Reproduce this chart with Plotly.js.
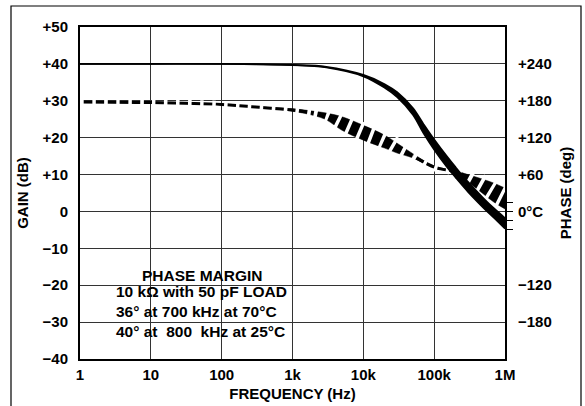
<!DOCTYPE html>
<html><head><meta charset="utf-8">
<script src="https://cdn.plot.ly/plotly-3.0.1.min.js"></script>
<style>html,body{margin:0;padding:0;background:#fff}#chart{width:585px;height:406px}</style>
</head><body><div id="chart"></div>
<script>
// ---- data ----
const freqGain  = [1, 10, 100, 300, 1000, 3000, 10000, 20000, 30000, 50000, 70000, 100000, 150000, 200000, 300000, 500000, 700000, 1000000];
const gainUpper = [40.0, 40.0, 40.0, 39.9, 39.7, 39.2, 37.0, 34.5, 32.3, 28.0, 23.8, 19.5, 15.0, 12.0, 8.0, 3.5, 0.8, -1.8];
const gainLower = [40.0, 40.0, 40.0, 39.9, 39.7, 39.0, 36.6, 33.5, 31.0, 26.2, 21.3, 16.7, 12.1, 9.2, 5.3, 0.9, -1.8, -4.7];

const freqPhase  = [1, 10, 100, 300, 1000, 2000, 3000, 5000, 10000, 20000, 30000, 50000, 100000, 200000, 300000, 500000, 700000, 1000000];
const phaseUpper = [178, 177, 174, 170, 167, 163, 160, 154, 140, 124, 111, 94, 74, 66, 60, 52, 46, 38];
const phaseLower = [178, 177, 174, 170, 163, 156, 149, 132, 116, 103, 95, 87, 71, 62, 48, 28, 15, 4];
const phaseMid   = [178, 177, 174, 170, 165, 160, 155, 143, 128, 114, 103, 90, 72, 64, 54, 40, 30, 21];

const freqTickVals  = [1, 10, 100, 1000, 10000, 100000, 1000000];
const freqTickText  = ['1', '10', '100', '1k', '10k', '100k', '1M'];
const gainTickVals  = [-40, -30, -20, -10, 0, 10, 20, 30, 40, 50];
const gainTickText  = ['\u221240', '\u221230', '\u221220', '\u221210', '0', '+10', '+20', '+30', '+40', '+50'];
const phaseTickVals = [-240, -180, -120, -60, 0, 60, 120, 180, 240, 300];
const phaseTickText = ['', '\u2212180', '\u2212120', '', '0\u00b0C', '+60', '+120', '+180', '+240', ''];
const phaseMinorTicks = [15, 0, -15, -30];

// ---- styling ----
const FONT = 'Liberation Sans, Arial, Helvetica, sans-serif';
const tickFont = {family: FONT, size: 15, color: '#000', weight: 'bold'};
const titleFont = {family: FONT, size: 15, color: '#000', weight: 'bold'};
const noteFont = {family: FONT, size: 15.5, color: '#000', weight: 'bold'};

// white gap overlays for the dashed phase band (segments with different widths)
const segs = [[0, 5, 7], [5, 11, 20], [11, 14, 8], [14, 17, 22]];
const gapTraces = segs.map(s => ({
  x: freqPhase.slice(s[0], s[1] + 1), y: phaseMid.slice(s[0], s[1] + 1),
  yaxis: 'y', mode: 'lines', hoverinfo: 'skip',
  line: {color: '#fff', width: s[2], dash: '3.5px,8.5px', shape: 'spline', smoothing: 1}
}));

const traces = [
  {x: freqPhase, y: phaseUpper, yaxis: 'y', mode: 'lines',
   line: {color: '#000', width: 0.5, shape: 'spline', smoothing: 1}},
  {x: freqPhase, y: phaseLower, yaxis: 'y', mode: 'lines', fill: 'tonexty', fillcolor: '#000',
   line: {color: '#000', width: 0.5, shape: 'spline', smoothing: 1}},
  {x: freqPhase, y: phaseMid, yaxis: 'y', mode: 'lines',
   line: {color: '#000', width: 3, shape: 'spline', smoothing: 1}},
  ...gapTraces,
  {x: freqGain, y: gainUpper, yaxis: 'y2', mode: 'lines',
   line: {color: '#000', width: 1.8, shape: 'spline', smoothing: 1}},
  {x: freqGain, y: gainLower, yaxis: 'y2', mode: 'lines', fill: 'tonexty', fillcolor: '#000',
   line: {color: '#000', width: 1.5, shape: 'spline', smoothing: 1}}
];

const layout = {
  width: 585, height: 406,
  margin: {l: 80, r: 80, t: 27, b: 47, pad: 0},
  paper_bgcolor: '#fff', plot_bgcolor: '#fff',
  showlegend: false,
  xaxis: {
    type: 'log', range: [0, 6], tickmode: 'array', tickvals: freqTickVals, ticktext: freqTickText,
    showgrid: true, gridcolor: '#333', gridwidth: 1, zeroline: false,
    showline: true, linecolor: '#000', linewidth: 2, mirror: true,
    ticks: '', ticklabelstandoff: 1, tickfont: tickFont,
    title: {text: 'FREQUENCY (Hz)', font: titleFont, standoff: 6}
  },
  yaxis: {
    side: 'right', range: [-240, 300], tickmode: 'array', tickvals: phaseTickVals, ticktext: phaseTickText,
    showgrid: true, gridcolor: '#333', gridwidth: 1, zeroline: false,
    showline: true, linecolor: '#000', linewidth: 2,
    ticks: '', ticklabelstandoff: 8, tickfont: tickFont,
    title: {text: 'PHASE (deg)', font: titleFont, standoff: 10}
  },
  yaxis2: {
    overlaying: 'y', side: 'left', range: [-40, 50], tickmode: 'array', tickvals: gainTickVals, ticktext: gainTickText,
    showgrid: false, zeroline: false,
    showline: true, linecolor: '#000', linewidth: 2,
    ticks: '', ticklabelstandoff: 7, tickfont: tickFont,
    title: {text: 'GAIN (dB)', font: titleFont, standoff: 10}
  },
  yaxis3: {
    overlaying: 'y', side: 'right', range: [-240, 300], tickmode: 'array', tickvals: phaseMinorTicks,
    showticklabels: false, showgrid: false, zeroline: false, showline: false,
    ticks: 'outside', ticklen: 7, tickwidth: 1, tickcolor: '#000'
  },
  annotations: [
    {xref: 'paper', yref: 'paper', x: (202 - 80) / 425, y: (359 - 275) / 332, xanchor: 'center', yanchor: 'middle',
     text: 'PHASE MARGIN', showarrow: false, font: noteFont},
    {xref: 'paper', yref: 'paper', x: (114 - 80) / 425, y: (359 - 311) / 332, xanchor: 'left', yanchor: 'middle',
     align: 'left', showarrow: false, font: noteFont,
     text: '10 k\u03a9 with 50 pF LOAD<br>36\u00b0 at 700 kHz at 70\u00b0C<br>40\u00b0 at  800  kHz at 25\u00b0C'}
  ],
  shapes: [
    {type: 'rect', xref: 'paper', yref: 'paper', x0: (11 - 80) / 425, x1: (581 - 80) / 425,
     y0: (359 - 420) / 332, y1: (359 - 6) / 332, line: {color: '#000', width: 1.2}, fillcolor: 'rgba(0,0,0,0)', layer: 'below'}
  ]
};

// invisible point so the minor-tick axis is drawn
traces.push({x: [1], y: [0], yaxis: 'y3', mode: 'markers', marker: {opacity: 0}, hoverinfo: 'skip'});

Plotly.newPlot('chart', traces, layout, {staticPlot: true, displayModeBar: false});
</script>
</body></html>
